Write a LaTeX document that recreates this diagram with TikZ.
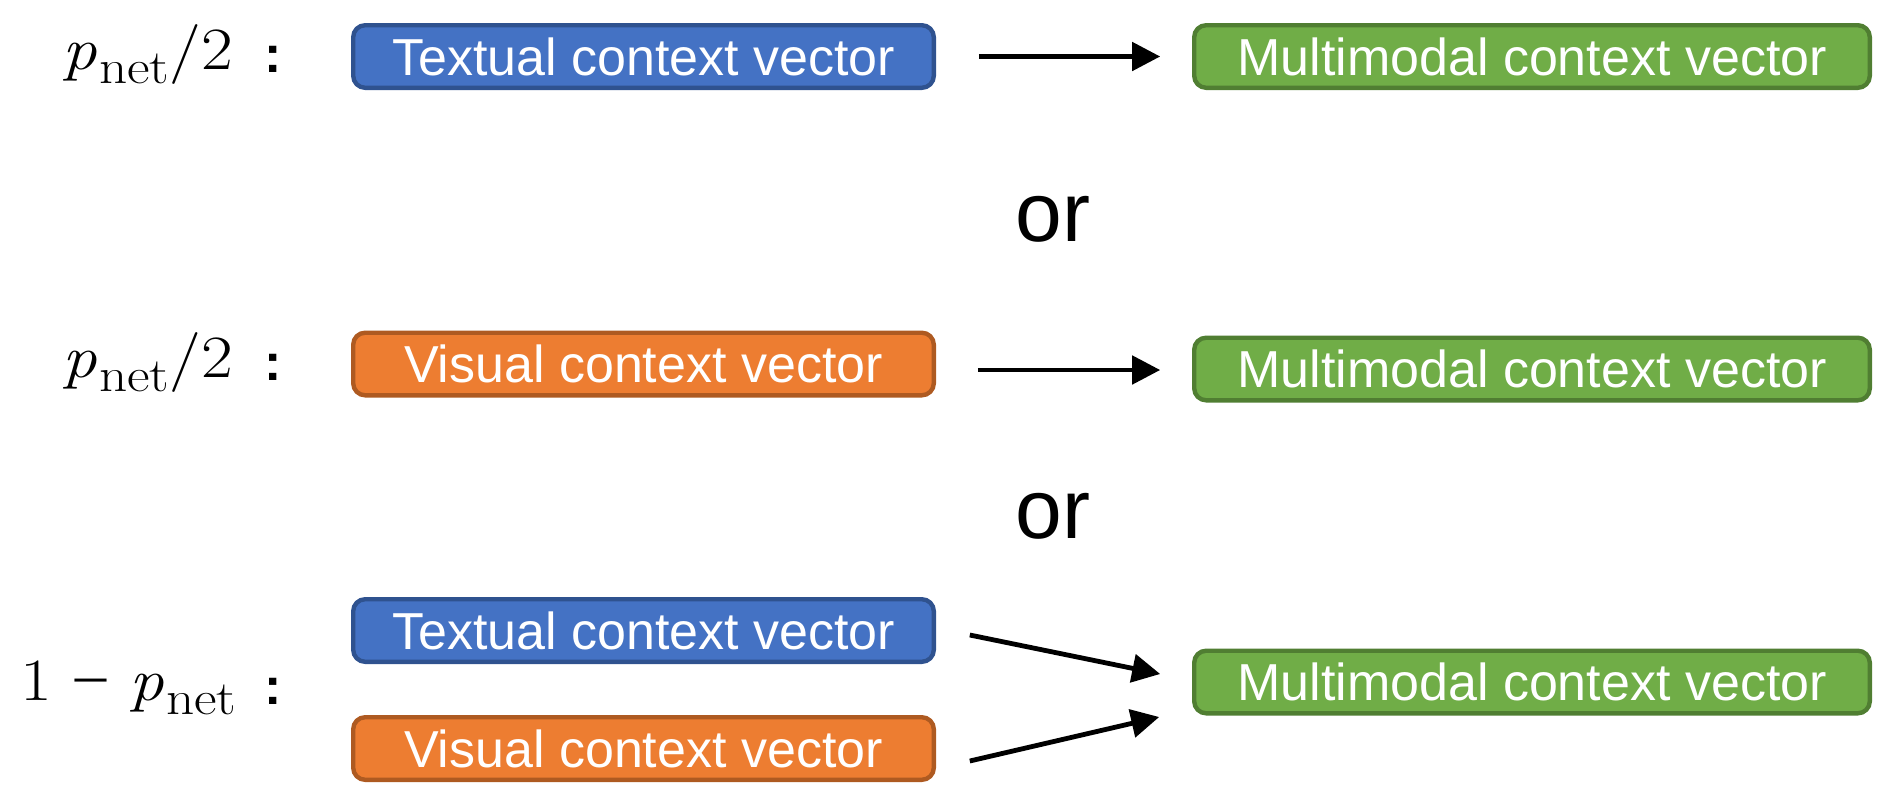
\documentclass[tikz,border=0pt]{standalone}
\usepackage{fontspec}
\setsansfont{Liberation Sans}
\newfontfamily\minusfont{Liberation Serif}
\usetikzlibrary{arrows.meta}
\definecolor{bluefill}{HTML}{4472C4}
\definecolor{blueline}{HTML}{2F528F}
\definecolor{orangefill}{HTML}{ED7D31}
\definecolor{orangeline}{HTML}{AE5A21}
\definecolor{greenfill}{HTML}{70AD47}
\definecolor{greenline}{HTML}{507E32}
\newcommand{\pnet}{{\itshape p}\kern1pt\raisebox{-7pt}{\fontsize{24}{27}\selectfont net}}
\tikzset{
  vbox/.style={rounded corners=6pt, line width=2.2pt, minimum height=31.3pt,
    inner sep=0pt, outer sep=0pt, text=white, font=\sffamily\fontsize{26}{30}\selectfont},
  srcbox/.style={vbox, minimum width=290.3pt},
  dstbox/.style={vbox, minimum width=337.8pt, fill=greenfill, draw=greenline},
  tbox/.style={srcbox, fill=bluefill, draw=blueline},
  obox/.style={srcbox, fill=orangefill, draw=orangeline},
  arr/.style={line width=2.4pt, -{Triangle[length=14pt,width=14pt]}},
  mathlab/.style={inner sep=0pt, font=\fontsize{30}{34}\selectfont},
  colonlab/.style={inner sep=0pt, font=\sffamily\bfseries\fontsize{26}{30}\selectfont},
  orlab/.style={inner sep=0pt, font=\sffamily\fontsize{42}{48}\selectfont}
}
\begin{document}
\begin{tikzpicture}[x=0.5pt,y=-0.5pt]
\useasboundingbox (0,0) rectangle (1884,798);
% row 1
\node[tbox] (t1) at (643.5,56.5) {Textual context vector};
\node[dstbox] (m1) at (1532,56.5) {Multimodal context vector};
\node[mathlab, anchor=base west] (l1) at (62,69) {\scalebox{1.15}[1]{\pnet/2}};
\node[colonlab, anchor=base] (c1) at (273,72) {:};
\draw[arr] ([shift={(45,0)}]t1.east) -- ([shift={(-34,0)}]m1.west);
% or
\node[orlab, anchor=base] (or1) at (1053,241) {or};
% row 2
\node[obox] (v2) at (643.5,364) {Visual context vector};
\node[dstbox] (m2) at (1532,369) {Multimodal context vector};
\node[mathlab, anchor=base west] (l2) at (62,377) {\scalebox{1.15}[1]{\pnet/2}};
\node[colonlab, anchor=base] (c2) at (273,380) {:};
\draw[arr] ([shift={(44,6)}]v2.east) -- ([shift={(-34,1)}]m2.west);
% or
\node[orlab, anchor=base] (or2) at (1053,538) {or};
% row 3
\node[tbox] (t3) at (643.5,630.5) {Textual context vector};
\node[obox] (v3) at (643.5,748.5) {Visual context vector};
\node[dstbox] (m3) at (1532,682) {Multimodal context vector};
\node[mathlab, anchor=base west] (l3) at (20,700) {\scalebox{1.15}[1]{1\;{\minusfont −}\;\pnet}};
\node[colonlab, anchor=base] (c3) at (273,704) {:};
\draw[arr] ([shift={(36,4.5)}]t3.east) -- ([shift={(-34,-8)}]m3.west);
\draw[arr] ([shift={(36,12.5)}]v3.east) -- ([shift={(-35,35)}]m3.west);
\end{tikzpicture}
\end{document}
